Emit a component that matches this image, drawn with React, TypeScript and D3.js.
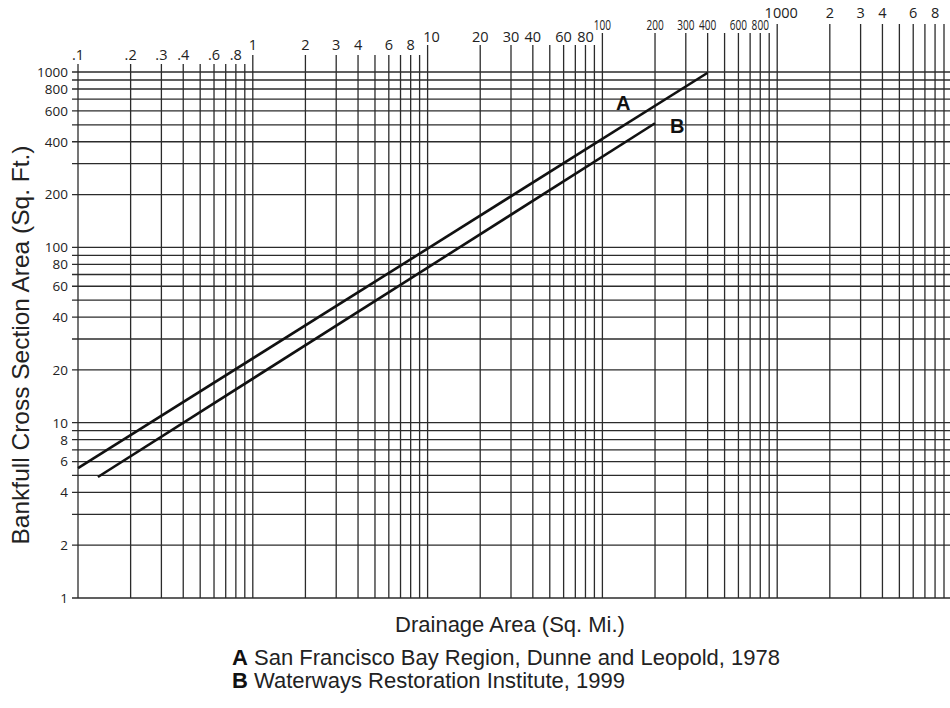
import React from 'react';
import * as d3 from 'd3';

// drainage area tick labels (sq. mi.), staggered by decade
const xLabelsTenths = [
  { v: 0.1, t: '.1' }, { v: 0.2, t: '.2' }, { v: 0.3, t: '.3' },
  { v: 0.4, t: '.4' }, { v: 0.6, t: '.6' }, { v: 0.8, t: '.8' },
];
const xLabelsOnes = [
  { v: 1, t: '1' }, { v: 2, t: '2' }, { v: 3, t: '3' },
  { v: 4, t: '4' }, { v: 6, t: '6' }, { v: 8, t: '8' },
];
const xLabelsTens = [
  { v: 10, t: '10' }, { v: 20, t: '20' }, { v: 30, t: '30' },
  { v: 40, t: '40' }, { v: 60, t: '60' }, { v: 80, t: '80' },
];
const xLabelsHundreds = [
  { v: 100, t: '100' }, { v: 200, t: '200' }, { v: 300, t: '300' },
  { v: 400, t: '400' }, { v: 600, t: '600' }, { v: 800, t: '800' },
];
const xLabelsThousands = [
  { v: 1000, t: '1000' }, { v: 2000, t: '2' }, { v: 3000, t: '3' },
  { v: 4000, t: '4' }, { v: 6000, t: '6' }, { v: 8000, t: '8' },
];

// cross section area tick labels (sq. ft.)
const yLabels = [1, 2, 4, 6, 8, 10, 20, 40, 60, 80, 100, 200, 400, 600, 800, 1000];

// regression lines
const lineA = [
  { area: 0.1, xs: 5.5 },
  { area: 400, xs: 990 },
];
const lineB = [
  { area: 0.13, xs: 4.9 },
  { area: 200, xs: 510 },
];

const legend = [
  { key: 'A', text: 'San Francisco Bay Region, Dunne and Leopold, 1978' },
  { key: 'B', text: 'Waterways Restoration Institute, 1999' },
];

const W = 950;
const H = 708;

export default function App() {
  const x = d3.scaleLog().domain([0.1, 10000]).range([78, 952]);
  const y = d3.scaleLog().domain([1, 1000]).range([598, 72]);

  const xGrid = x.ticks().filter(v => v < 9500);
  const yGrid = y.ticks();

  // top of the vertical rules for each decade
  const lineTop: Record<number, number> = { [-1]: 64, 0: 55, 1: 45, 2: 33, 3: 24 };
  const decade = (v: number) => Math.floor(Math.log10(v) + 1e-9);

  const line = d3.line<{ area: number; xs: number }>()
    .x(d => x(d.area))
    .y(d => y(d.xs));

  const labelFont = "'Open Sans', 'DejaVu Sans', sans-serif";
  const textFont = "'Liberation Sans', Arial, sans-serif";
  const grid = '#2b2b2b';

  const labelRow = (items: { v: number; t: string }[], baseline: number, size: number, condensed = false, decadeDx = 0) =>
    items.map((d, i) => (
      <text
        key={d.t + d.v}
        transform={`translate(${x(d.v) + (i === 0 ? decadeDx : 0)},${baseline})${condensed ? ' scale(0.72,1)' : ''}`}
        textAnchor="middle"
        fontSize={size}
        fontFamily={labelFont}
        fill="#222"
      >
        {d.t}
      </text>
    ));

  return (
    <svg width={W} height={H} style={{ position: 'absolute', left: 0, top: 0, background: '#fff' }}>
      {/* horizontal rules */}
      {yGrid.map(v => (
        <line key={'h' + v} x1={72} x2={W} y1={y(v)} y2={y(v)} stroke={grid} strokeWidth={1.3} />
      ))}
      {/* vertical rules */}
      {xGrid.map(v => (
        <line key={'v' + v} x1={x(v)} x2={x(v)} y1={lineTop[decade(v)]} y2={y(1)} stroke={grid} strokeWidth={1.3} />
      ))}

      {/* x labels along the top */}
      {labelRow(xLabelsTenths, 60, 14.5)}
      {labelRow(xLabelsOnes, 50, 14.5)}
      {labelRow(xLabelsTens, 42, 14.5, false, 4)}
      {labelRow(xLabelsHundreds, 30, 14, true)}
      {labelRow(xLabelsThousands, 18, 14.5, false, 4)}

      {/* y labels */}
      {yLabels.map(v => (
        <text key={'yl' + v} x={68} y={y(v)} dy="0.36em" textAnchor="end" fontSize={13.5} fontFamily={labelFont} fill="#222">
          {v}
        </text>
      ))}

      {/* regression lines */}
      <path d={line(lineA) ?? ''} fill="none" stroke="#111" strokeWidth={2.6} />
      <path d={line(lineB) ?? ''} fill="none" stroke="#111" strokeWidth={2.6} />
      <text x={616} y={110} fontSize={20} fontWeight="bold" fontFamily={textFont} fill="#111">A</text>
      <text x={670} y={133} fontSize={20} fontWeight="bold" fontFamily={textFont} fill="#111">B</text>

      {/* axis titles */}
      <text x={510} y={632} textAnchor="middle" fontSize={22} fontFamily={textFont} fill="#222">
        Drainage Area (Sq. Mi.)
      </text>
      <text
        transform="translate(29,345) rotate(-90)"
        textAnchor="middle"
        fontSize={24.5}
        fontFamily={textFont}
        fill="#222"
      >
        Bankfull Cross Section Area (Sq. Ft.)
      </text>

      {/* legend */}
      {legend.map((d, i) => (
        <g key={d.key} transform={`translate(232,${665 + i * 23})`}>
          <text fontSize={22} fontWeight="bold" fontFamily={textFont} fill="#111">{d.key}</text>
          <text x={22} fontSize={22} fontFamily={textFont} fill="#222">{d.text}</text>
        </g>
      ))}
    </svg>
  );
}
